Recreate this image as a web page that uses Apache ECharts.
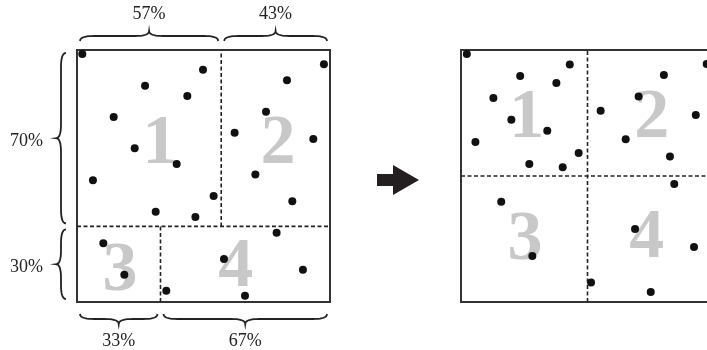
<!DOCTYPE html>
<html>
<head>
<meta charset="utf-8">
<script src="https://cdn.jsdelivr.net/npm/echarts@6/dist/echarts.min.js"></script>
</head>
<body style="margin:0;background:#fff">
<div id="main" style="width:707px;height:350px;"></div>
<script>
// points in percent of the square (x right, y up)
var leftDots = [
  [2.1, 98.4], [49.8, 92.2], [26.9, 85.8], [43.6, 81.7], [14.5, 73.4],
  [22.8, 61.0], [39.4, 54.8], [97.6, 94.3], [83.0, 88.0], [74.7, 75.5],
  [62.3, 67.2], [93.4, 64.7], [70.5, 50.6], [6.3, 48.3], [54.0, 42.1],
  [31.1, 35.8], [46.8, 33.7], [85.1, 40.0], [78.9, 27.5], [10.4, 23.3],
  [18.7, 10.8], [58.1, 17.1], [89.3, 12.8], [35.3, 4.5], [66.4, 2.5]
];
var rightDots = [
  [2.3, 98.4], [43.0, 94.2], [23.4, 89.7], [37.7, 86.9], [12.8, 81.0],
  [19.9, 72.3], [34.1, 68.0], [5.7, 63.5], [46.5, 59.1], [27.0, 54.8],
  [40.2, 53.5], [97.1, 94.4], [80.2, 90.1], [70.2, 81.5], [55.2, 75.9],
  [92.8, 74.2], [65.1, 64.6], [82.6, 57.7], [84.3, 46.8], [15.9, 39.8],
  [28.2, 18.3], [68.8, 29.0], [92.1, 21.8], [51.4, 7.7], [75.0, 4.0]
];

// dashed split lines (start, end)
var leftSplits = [[[57, 30], [57, 100]], [[0, 30], [100, 30]], [[33, 0], [33, 30]]];
var rightSplits = [[[50, 0], [50, 100]], [[0, 50], [100, 50]]];

// region numbers
var leftRegions = [[32.8, 64.3, '1'], [79.4, 64.3, '2'], [17.0, 13.9, '3'], [62.7, 15.5, '4']];
var rightRegions = [[26.0, 74.6, '1'], [75.4, 74.6, '2'], [25.3, 26.2, '3'], [73.4, 27.0, '4']];

// braces: [from, to], label
var topSpans = [[0, 57], [57, 100]];
var topLabels = ['57%', '43%'];
var sideSpans = [[30, 100], [0, 30]];
var sideLabels = ['70%', '30%'];
var bottomSpans = [[0, 33], [33, 100]];
var bottomLabels = ['33%', '67%'];

var braces = [];
topSpans.forEach(function (s, i) { braces.push({ side: 'top', a: s[0], b: s[1], label: topLabels[i] }); });
sideSpans.forEach(function (s, i) { braces.push({ side: 'left', a: s[0], b: s[1], label: sideLabels[i] }); });
bottomSpans.forEach(function (s, i) { braces.push({ side: 'bottom', a: s[0], b: s[1], label: bottomLabels[i] }); });

var INK = '#222';
var serif = '"Liberation Serif", "Times New Roman", serif';

function quad(pts, p0, c, p1) {
  for (var t = 1; t <= 10; t++) {
    var k = t / 10, m = 1 - k;
    pts.push([m * m * p0[0] + 2 * m * k * c[0] + k * k * p1[0],
              m * m * p0[1] + 2 * m * k * c[1] + k * k * p1[1]]);
  }
}

function renderBrace(params, api) {
  var d = braces[params.dataIndex];
  var O, U, N, L, offset, inset = 3, depth = 10;
  if (d.side === 'left') {
    var top = api.coord([0, d.b]), bot = api.coord([0, d.a]);
    offset = 11;
    O = [top[0] - offset, top[1] + inset]; U = [0, 1]; N = [-1, 0];
    L = bot[1] - top[1] - 2 * inset;
  } else {
    var yv = d.side === 'top' ? 100 : 0;
    var p1 = api.coord([d.a, yv]), p2 = api.coord([d.b, yv]);
    offset = d.side === 'top' ? 9 : 12;
    N = d.side === 'top' ? [0, -1] : [0, 1];
    O = [p1[0] + inset, p1[1] + N[1] * offset]; U = [1, 0];
    L = p2[0] - p1[0] - 2 * inset;
  }
  var h = depth / 2, q = Math.min(14, L / 4);
  var loc = [[0, 0]];
  quad(loc, [0, 0], [0, h], [q, h]);
  loc.push([L / 2 - q, h]);
  quad(loc, [L / 2 - q, h], [L / 2, h], [L / 2, 2 * h]);
  quad(loc, [L / 2, 2 * h], [L / 2, h], [L / 2 + q, h]);
  loc.push([L - q, h]);
  quad(loc, [L - q, h], [L, h], [L, 0]);
  var pts = loc.map(function (p) {
    return [O[0] + U[0] * p[0] + N[0] * p[1], O[1] + U[1] * p[0] + N[1] * p[1]];
  });
  var tip = [O[0] + U[0] * L / 2 + N[0] * depth, O[1] + U[1] * L / 2 + N[1] * depth];
  var text;
  if (d.side === 'left') {
    text = { type: 'text', x: tip[0] - 13, y: tip[1] + 3,
      style: { text: d.label, fontSize: 18, fontFamily: serif, fill: INK, align: 'right', verticalAlign: 'middle' } };
  } else {
    text = { type: 'text', x: tip[0], y: tip[1] + N[1] * 17,
      style: { text: d.label, fontSize: 18, fontFamily: serif, fill: INK, align: 'center', verticalAlign: 'middle' } };
  }
  return {
    type: 'group',
    children: [
      { type: 'polyline', shape: { points: pts }, style: { stroke: INK, lineWidth: 1.8, fill: null } },
      text
    ]
  };
}

function renderRegion(list) {
  return function (params, api) {
    var r = list[params.dataIndex];
    var p = api.coord([r[0], r[1]]);
    return {
      type: 'text', x: p[0], y: p[1] + 5,
      style: { text: r[2], fontSize: 70, fontWeight: 'bold', fontFamily: serif,
        fill: '#c8c8c8', align: 'center', verticalAlign: 'middle' }
    };
  };
}

function splitSeries(list, idx) {
  return list.map(function (seg) {
    return {
      type: 'line', xAxisIndex: idx, yAxisIndex: idx, data: seg, symbol: 'none',
      silent: true, z: 2,
      lineStyle: { color: INK, width: 1.6, type: [4, 2.5] }
    };
  });
}

var myChart = echarts.init(document.getElementById('main'), null, { renderer: 'canvas' });

var valAxis = function (idx) {
  return { type: 'value', gridIndex: idx, min: 0, max: 100, show: false };
};

var dotStyle = { color: '#111', opacity: 1 };

var series = [
  { type: 'custom', xAxisIndex: 0, yAxisIndex: 0, data: braces.map(function () { return [0, 0]; }),
    renderItem: renderBrace, clip: false, silent: true, z: 1 },
  { type: 'custom', xAxisIndex: 0, yAxisIndex: 0, data: leftRegions.map(function (r) { return [r[0], r[1]]; }),
    renderItem: renderRegion(leftRegions), clip: false, silent: true, z: 1 },
  { type: 'custom', xAxisIndex: 1, yAxisIndex: 1, data: rightRegions.map(function (r) { return [r[0], r[1]]; }),
    renderItem: renderRegion(rightRegions), clip: false, silent: true, z: 1 },
  { type: 'scatter', xAxisIndex: 0, yAxisIndex: 0, data: leftDots, symbolSize: 8,
    itemStyle: dotStyle, clip: false, z: 4 },
  { type: 'scatter', xAxisIndex: 1, yAxisIndex: 1, data: rightDots, symbolSize: 8,
    itemStyle: dotStyle, clip: false, z: 4 }
].concat(splitSeries(leftSplits, 0), splitSeries(rightSplits, 1));

var option = {
  animation: false,
  backgroundColor: '#fff',
  grid: [
    { left: 77, top: 50, width: 253, height: 252, show: true, borderColor: '#333', borderWidth: 2,
      outerBoundsMode: 'none' },
    { left: 461, top: 50, width: 253, height: 252, show: true, borderColor: '#333', borderWidth: 2,
      outerBoundsMode: 'none' }
  ],
  xAxis: [valAxis(0), valAxis(1)],
  yAxis: [valAxis(0), valAxis(1)],
  graphic: [{
    type: 'polygon', silent: true,
    shape: { points: [[377, 174], [393, 174], [393, 165], [419, 180], [393, 195], [393, 186], [377, 186]] },
    style: { fill: '#231f20' }
  }],
  series: series
};

myChart.setOption(option);
</script>
</body>
</html>
